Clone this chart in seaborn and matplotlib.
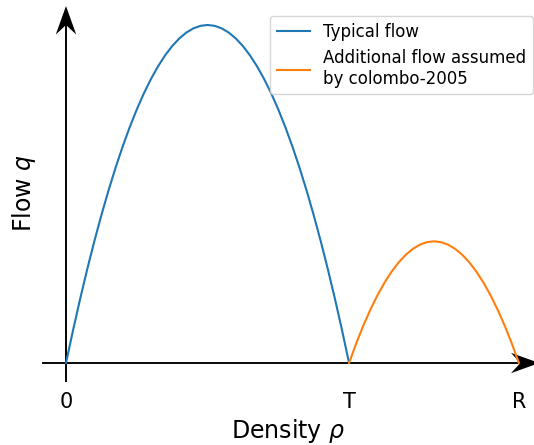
import matplotlib
matplotlib.use("Agg")
import matplotlib.pyplot as plt
import seaborn as sns
import pandas as pd

# Data (density in units where T = 1)
typical_rho = [0.000, 0.025, 0.050, 0.075, 0.100, 0.125, 0.150, 0.175, 0.200, 0.225,
               0.250, 0.275, 0.300, 0.325, 0.350, 0.375, 0.400, 0.425, 0.450, 0.475,
               0.500, 0.525, 0.550, 0.575, 0.600, 0.625, 0.650, 0.675, 0.700, 0.725,
               0.750, 0.775, 0.800, 0.825, 0.850, 0.875, 0.900, 0.925, 0.950, 0.975, 1.000]
typical_q = [0.0, 0.024375, 0.0475, 0.069375, 0.09, 0.109375, 0.1275, 0.144375, 0.16, 0.174375,
             0.1875, 0.199375, 0.21, 0.219375, 0.2275, 0.234375, 0.24, 0.244375, 0.2475, 0.249375,
             0.25, 0.249375, 0.2475, 0.244375, 0.24, 0.234375, 0.2275, 0.219375, 0.21, 0.199375,
             0.1875, 0.174375, 0.16, 0.144375, 0.1275, 0.109375, 0.09, 0.069375, 0.0475, 0.024375, 0.0]
extra_rho = [1.000, 1.025, 1.050, 1.075, 1.100, 1.125, 1.150, 1.175, 1.200, 1.225, 1.250,
             1.275, 1.300, 1.325, 1.350, 1.375, 1.400, 1.425, 1.450, 1.475, 1.500, 1.525,
             1.550, 1.575, 1.600]
extra_q = [0.0, 0.014375, 0.0275, 0.039375, 0.05, 0.059375, 0.0675, 0.074375, 0.08, 0.084375,
           0.0875, 0.089375, 0.09, 0.089375, 0.0875, 0.084375, 0.08, 0.074375, 0.0675, 0.059375,
           0.05, 0.039375, 0.0275, 0.014375, 0.0]

tick_pos = [0.0, 1.0, 1.6]
tick_labels = ["0", "T", "R"]
series_names = ["Typical flow", "Additional flow assumed\nby colombo-2005"]

df = pd.DataFrame({
    "rho": typical_rho + extra_rho,
    "q": typical_q + extra_q,
    "series": [series_names[0]] * len(typical_rho) + [series_names[1]] * len(extra_rho),
})

fig = plt.figure(figsize=(5.34, 4.45), dpi=100)
ax = fig.add_axes([42 / 534, (445 - 382) / 445, (541 - 42) / 534, (382 - 7) / 445])

sns.lineplot(data=df, x="rho", y="q", hue="series", palette=["#1f77b4", "#ff7f0e"],
             linewidth=1.5, ax=ax, sort=False)

xmin, xmax = -0.0848, 1.678
ymin, ymax = -0.01405, 0.2633
ax.set_xlim(xmin, xmax)
ax.set_ylim(ymin, ymax)

for s in ax.spines.values():
    s.set_visible(False)

# axis arrows
ax.arrow(xmin, 0, 1.672 - xmin, 0, width=0.0014, head_width=0.0150, head_length=0.10,
         overhang=0.3, length_includes_head=True, fc="black", lw=0, clip_on=False, zorder=1)
ax.arrow(0, ymin, 0, 0.2640 - ymin, width=0.0068, head_width=0.072, head_length=0.021,
         overhang=0.3, length_includes_head=True, fc="black", lw=0, clip_on=False, zorder=1)

ax.set_xticks(tick_pos, tick_labels)
ax.set_yticks([])
ax.tick_params(axis="x", length=0, pad=7, labelsize=15)

ax.set_xlabel(r"Density $\rho$", fontsize=17)
ax.set_ylabel(r"Flow $q$", fontsize=17)
ax.xaxis.set_label_coords((288 - 42) / (541 - 42), (382 - 417) / (382 - 7))
ax.yaxis.set_label_coords((38 - 42) / (541 - 42), (382 - 193) / (382 - 7))

ax.legend(loc="upper right", bbox_to_anchor=(533 / 534, 1 - 16 / 445),
          bbox_transform=fig.transFigure, borderaxespad=0, fontsize=12, title=None)

fig.savefig("out.png", dpi=100)
